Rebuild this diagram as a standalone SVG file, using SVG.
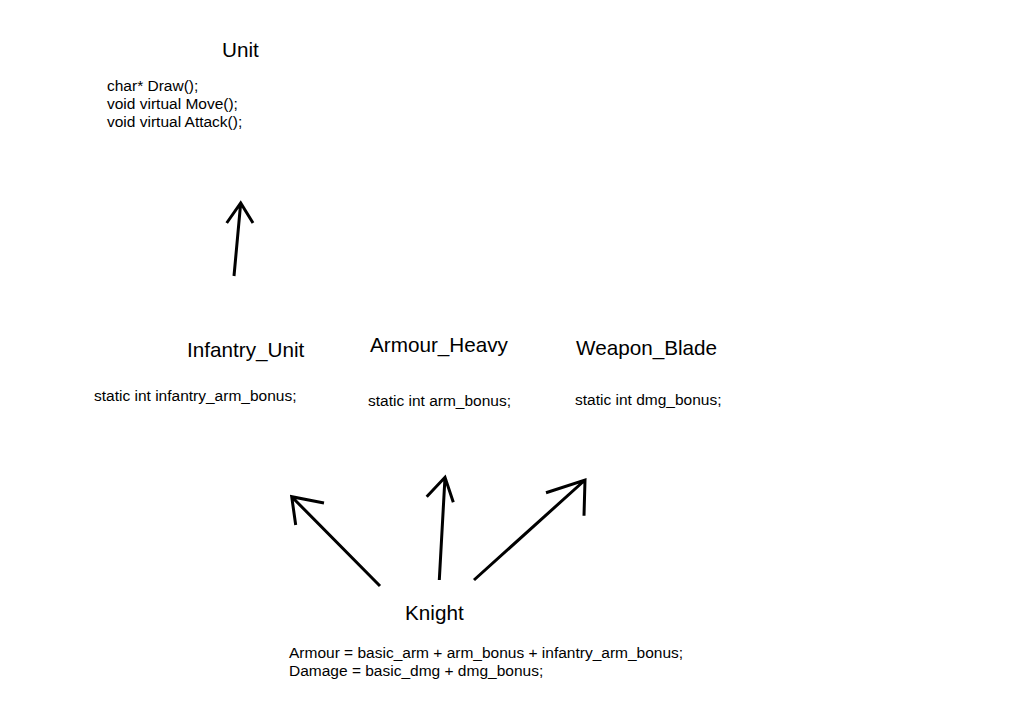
<svg xmlns="http://www.w3.org/2000/svg" width="1028" height="704" viewBox="0 0 1028 704">
<style>
.t{font-family:"Liberation Sans",Arial,sans-serif;font-size:20.7px;fill:#000}
.s{font-family:"Liberation Sans",Arial,sans-serif;font-size:15.5px;fill:#000}
.c path{fill:none;stroke:#000;stroke-width:3;stroke-linecap:butt;stroke-linejoin:miter}
</style>
<rect width="1028" height="704" fill="#fff"/>
<g id="unit">
<text class="t" x="222" y="57">Unit</text>
<text class="s" x="107" y="91">char* Draw();</text>
<text class="s" x="107" y="109">void virtual Move();</text>
<text class="s" x="107" y="127">void virtual Attack();</text>
</g>
<g id="infantry_unit">
<text class="t" x="187" y="357">Infantry_Unit</text>
<text class="s" x="94" y="401">static int infantry_arm_bonus;</text>
</g>
<g id="armour_heavy">
<text class="t" x="370" y="352">Armour_Heavy</text>
<text class="s" x="368" y="406">static int arm_bonus;</text>
</g>
<g id="weapon_blade">
<text class="t" x="576" y="355">Weapon_Blade</text>
<text class="s" x="575" y="405">static int dmg_bonus;</text>
</g>
<g id="knight">
<text class="t" x="405" y="620">Knight</text>
<text class="s" x="289" y="658">Armour = basic_arm + arm_bonus + infantry_arm_bonus;</text>
<text class="s" x="289" y="676">Damage = basic_dmg + dmg_bonus;</text>
</g>
<g class="c" id="connectors">
<path d="M234,276 L240.7,203 M226.7,223 L240.7,203 L253,223"/>
<path d="M380,586 L291.7,496.7 M324,503 L291.7,496.7 L295.7,525"/>
<path d="M439.3,580 L445,477.3 M426.7,496.7 L445,477.3 L453.3,502.3"/>
<path d="M474,580 L585,480 M546,492.7 L585,480 L584,515.7"/>
</g>
</svg>
